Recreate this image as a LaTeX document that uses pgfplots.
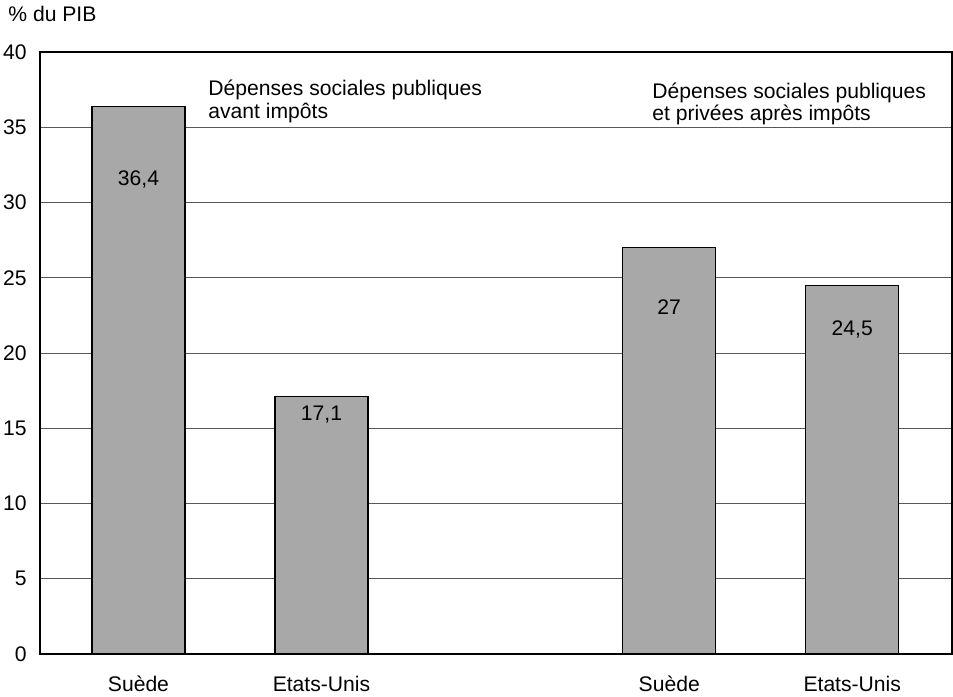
\documentclass[border=0pt]{standalone}
\usepackage{pgfplots}
\pgfplotsset{compat=1.18}
\usepackage{fontspec}
\setmainfont{Liberation Sans}
\usetikzlibrary{calc}

\definecolor{barfill}{gray}{0.66}

\pgfplotstableread{
x    y
0    36.4
1    17.1
2.9  27
3.9  24.5
}\depenses

\begin{document}
\begin{tikzpicture}
\fontsize{10.6}{12.5}\selectfont
\begin{axis}[
  name=ax,
  scale only axis,
  width=456bp, height=301bp,
  xmin=-0.538, xmax=4.445,
  ymin=0, ymax=40,
  ytick={0,5,...,40},
  xtick={0,1,2.9,3.9},
  xticklabels={Suède,Etats-Unis,Suède,Etats-Unis},
  major tick length=0pt,
  ymajorgrids,
  grid style={black!65, line width=0.5bp},
  axis line style={line width=1bp},
  x tick label style={anchor=base, yshift=-18.5bp},
  y tick label style={xshift=-3bp},
  tick label style={font=\fontsize{10.6}{12.5}\selectfont},
  /pgf/number format/assume math mode=true,
  clip=false,
]
\addplot[ybar, bar width=46.5bp, bar shift=0pt, fill=barfill, draw=black, line width=0.6bp]
  table[x=x, y=y] {\depenses};

\node at (axis cs:0,31.5) {36,4};
\node at (axis cs:1,15.9) {17,1};
\node at (axis cs:2.9,23.05) {27};
\node at (axis cs:3.9,21.55) {24,5};

\node[anchor=base west, inner sep=0pt] at (axis cs:0.38,37.08) {Dépenses sociales publiques};
\node[anchor=base west, inner sep=0pt] at (axis cs:0.38,35.6) {avant impôts};
\node[anchor=base west, inner sep=0pt] at (axis cs:2.806,36.92) {Dépenses sociales publiques};
\node[anchor=base west, inner sep=0pt] at (axis cs:2.806,35.44) {et privées après impôts};
\end{axis}
\node[anchor=base west, inner sep=0pt] at ($(ax.north west)+(-16bp,15.5bp)$) {\% du PIB};
\pgfresetboundingbox
\path[use as bounding box] ($(ax.south west)+(-20bp,-21.5bp)$) rectangle ($(ax.north east)+(0.5bp,26bp)$);
\end{tikzpicture}
\end{document}
